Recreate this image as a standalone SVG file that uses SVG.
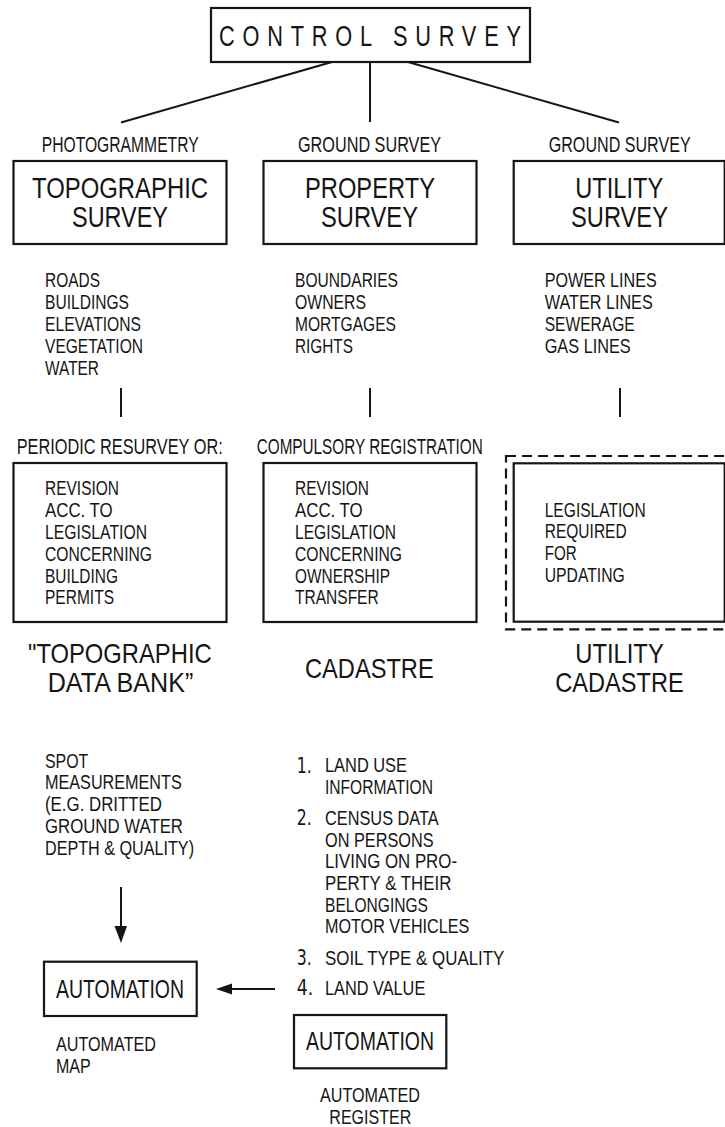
<svg xmlns="http://www.w3.org/2000/svg" width="725" height="1127" viewBox="0 0 725 1127">
<style>
text{font-family:"Liberation Sans",Arial,sans-serif;fill:#151515}
.s{font-size:22px}
.t{font-size:29px}
.l{font-size:20px}
.b{font-size:28px}
.a{font-size:26px}
.n{font-family:"DejaVu Sans",sans-serif;font-size:22px}
.box{fill:none;stroke:#151515;stroke-width:2.2}
.ln{fill:none;stroke:#151515;stroke-width:2}
.dash{fill:none;stroke:#151515;stroke-width:2.2;stroke-dasharray:10 6}
.ah{fill:#151515}
</style>
<g id="control-survey">
<rect class="box" x="211" y="8" width="319" height="54"/>
<text transform="translate(219,46) scale(0.75,1)" font-size="29" letter-spacing="10.4">CONTROL SURVEY</text>
</g>
<g id="connectors">
<line class="ln" x1="332" y1="62" x2="121" y2="122.5"/>
<line class="ln" x1="370" y1="62" x2="370" y2="122"/>
<line class="ln" x1="408" y1="62" x2="619" y2="122.5"/>
<line class="ln" x1="121" y1="388" x2="121" y2="417"/>
<line class="ln" x1="370" y1="388" x2="370" y2="417"/>
<line class="ln" x1="620" y1="388" x2="620" y2="417"/>
<line class="ln" x1="121" y1="887" x2="121" y2="930"/>
<polygon class="ah" points="114.5,926 127,926 121,943"/>
<line class="ln" x1="275" y1="989" x2="228" y2="989"/>
<polygon class="ah" points="216,989 232,983.5 232,994.5"/>
</g>
<g id="topographic-survey">
<text class="s" transform="translate(41.7,152) scale(0.75,1)" textLength="209.3" lengthAdjust="spacingAndGlyphs">PHOTOGRAMMETRY</text>
<rect class="box" x="13.5" y="161" width="213" height="83"/>
<text class="t" transform="translate(32,198) scale(0.75,1)" textLength="234.7" lengthAdjust="spacingAndGlyphs">TOPOGRAPHIC</text>
<text class="t" transform="translate(72,227) scale(0.75,1)" textLength="128" lengthAdjust="spacingAndGlyphs">SURVEY</text>
</g>
<g id="property-survey">
<text class="s" transform="translate(298,152) scale(0.75,1)" textLength="190.7" lengthAdjust="spacingAndGlyphs">GROUND SURVEY</text>
<rect class="box" x="263.5" y="161" width="213" height="83"/>
<text class="t" transform="translate(305,198) scale(0.75,1)" textLength="173.3" lengthAdjust="spacingAndGlyphs">PROPERTY</text>
<text class="t" transform="translate(321,227) scale(0.75,1)" textLength="129.3" lengthAdjust="spacingAndGlyphs">SURVEY</text>
</g>
<g id="utility-survey">
<text class="s" transform="translate(548.7,152) scale(0.75,1)" textLength="189.3" lengthAdjust="spacingAndGlyphs">GROUND SURVEY</text>
<rect class="box" x="513.7" y="161" width="211" height="83"/>
<text class="t" transform="translate(575.3,198) scale(0.75,1)" textLength="117.3" lengthAdjust="spacingAndGlyphs">UTILITY</text>
<text class="t" transform="translate(571,227) scale(0.75,1)" textLength="129.3" lengthAdjust="spacingAndGlyphs">SURVEY</text>
</g>
<g id="topographic-items">
<text class="l" transform="translate(45,287) scale(0.75,1)" textLength="73.3" lengthAdjust="spacingAndGlyphs">ROADS</text>
<text class="l" transform="translate(45,309) scale(0.75,1)" textLength="112" lengthAdjust="spacingAndGlyphs">BUILDINGS</text>
<text class="l" transform="translate(45,331) scale(0.75,1)" textLength="128" lengthAdjust="spacingAndGlyphs">ELEVATIONS</text>
<text class="l" transform="translate(45,353) scale(0.75,1)" textLength="130.7" lengthAdjust="spacingAndGlyphs">VEGETATION</text>
<text class="l" transform="translate(45,375) scale(0.75,1)" textLength="72" lengthAdjust="spacingAndGlyphs">WATER</text>
</g>
<g id="property-items">
<text class="l" transform="translate(295,287) scale(0.75,1)" textLength="137.3" lengthAdjust="spacingAndGlyphs">BOUNDARIES</text>
<text class="l" transform="translate(295,309) scale(0.75,1)" textLength="94.7" lengthAdjust="spacingAndGlyphs">OWNERS</text>
<text class="l" transform="translate(295,331) scale(0.75,1)" textLength="134.7" lengthAdjust="spacingAndGlyphs">MORTGAGES</text>
<text class="l" transform="translate(295,353) scale(0.75,1)" textLength="77.3" lengthAdjust="spacingAndGlyphs">RIGHTS</text>
</g>
<g id="utility-items">
<text class="l" transform="translate(544.7,287) scale(0.75,1)" textLength="149.3" lengthAdjust="spacingAndGlyphs">POWER LINES</text>
<text class="l" transform="translate(544.7,309) scale(0.75,1)" textLength="144" lengthAdjust="spacingAndGlyphs">WATER LINES</text>
<text class="l" transform="translate(544.7,331) scale(0.75,1)" textLength="120" lengthAdjust="spacingAndGlyphs">SEWERAGE</text>
<text class="l" transform="translate(544.7,353) scale(0.75,1)" textLength="114.7" lengthAdjust="spacingAndGlyphs">GAS LINES</text>
</g>
<g id="topographic-revision">
<text class="s" transform="translate(16.7,454) scale(0.75,1)" textLength="274.7" lengthAdjust="spacingAndGlyphs">PERIODIC RESURVEY OR:</text>
<rect class="box" x="13.5" y="463" width="213" height="159"/>
<text class="l" transform="translate(45,495) scale(0.75,1)" textLength="98.7" lengthAdjust="spacingAndGlyphs">REVISION</text>
<text class="l" transform="translate(45,517) scale(0.75,1)" textLength="90.3" lengthAdjust="spacingAndGlyphs">ACC. TO</text>
<text class="l" transform="translate(45,539) scale(0.75,1)" textLength="136" lengthAdjust="spacingAndGlyphs">LEGISLATION</text>
<text class="l" transform="translate(45,561) scale(0.75,1)" textLength="142.7" lengthAdjust="spacingAndGlyphs">CONCERNING</text>
<text class="l" transform="translate(45,583) scale(0.75,1)" textLength="97.3" lengthAdjust="spacingAndGlyphs">BUILDING</text>
<text class="l" transform="translate(45,604) scale(0.75,1)" textLength="92" lengthAdjust="spacingAndGlyphs">PERMITS</text>
</g>
<g id="property-registration">
<text class="s" transform="translate(256.7,454) scale(0.75,1)" textLength="301.3" lengthAdjust="spacingAndGlyphs">COMPULSORY REGISTRATION</text>
<rect class="box" x="263.5" y="463" width="213" height="159"/>
<text class="l" transform="translate(295,495) scale(0.75,1)" textLength="98.7" lengthAdjust="spacingAndGlyphs">REVISION</text>
<text class="l" transform="translate(295,517) scale(0.75,1)" textLength="90.3" lengthAdjust="spacingAndGlyphs">ACC. TO</text>
<text class="l" transform="translate(295,539) scale(0.75,1)" textLength="134.7" lengthAdjust="spacingAndGlyphs">LEGISLATION</text>
<text class="l" transform="translate(295,561) scale(0.75,1)" textLength="142.7" lengthAdjust="spacingAndGlyphs">CONCERNING</text>
<text class="l" transform="translate(295,583) scale(0.75,1)" textLength="126.7" lengthAdjust="spacingAndGlyphs">OWNERSHIP</text>
<text class="l" transform="translate(295,604) scale(0.75,1)" textLength="111.6" lengthAdjust="spacingAndGlyphs">TRANSFER</text>
</g>
<g id="utility-legislation">
<rect class="dash" x="506" y="456" width="230" height="173.3"/>
<rect class="box" x="513.7" y="463.3" width="211" height="158.4"/>
<text class="l" transform="translate(544.7,516.7) scale(0.75,1)" textLength="134.7" lengthAdjust="spacingAndGlyphs">LEGISLATION</text>
<text class="l" transform="translate(544.7,538.3) scale(0.75,1)" textLength="109.3" lengthAdjust="spacingAndGlyphs">REQUIRED</text>
<text class="l" transform="translate(544.7,560) scale(0.75,1)" textLength="42.7" lengthAdjust="spacingAndGlyphs">FOR</text>
<text class="l" transform="translate(544.7,581.7) scale(0.75,1)" textLength="106.7" lengthAdjust="spacingAndGlyphs">UPDATING</text>
</g>
<g id="topographic-data-bank">
<text class="b" transform="translate(28,663.3) scale(0.75,1)" textLength="244.9" lengthAdjust="spacingAndGlyphs">"TOPOGRAPHIC</text>
<text class="b" transform="translate(47.7,691.7) scale(0.75,1)" textLength="194.1" lengthAdjust="spacingAndGlyphs">DATA BANK”</text>
</g>
<g id="cadastre">
<text class="b" transform="translate(305,678.3) scale(0.75,1)" textLength="171.6" lengthAdjust="spacingAndGlyphs">CADASTRE</text>
</g>
<g id="utility-cadastre">
<text class="b" transform="translate(575.3,662.7) scale(0.75,1)" textLength="117.9" lengthAdjust="spacingAndGlyphs">UTILITY</text>
<text class="b" transform="translate(555.3,691.7) scale(0.75,1)" textLength="171.2" lengthAdjust="spacingAndGlyphs">CADASTRE</text>
</g>
<g id="spot-measurements">
<text class="l" transform="translate(45,767.7) scale(0.75,1)" textLength="57.7" lengthAdjust="spacingAndGlyphs">SPOT</text>
<text class="l" transform="translate(45,789.3) scale(0.75,1)" textLength="182.3" lengthAdjust="spacingAndGlyphs">MEASUREMENTS</text>
<text class="l" transform="translate(45,811) scale(0.75,1)" textLength="156" lengthAdjust="spacingAndGlyphs">(E.G. DRITTED</text>
<text class="l" transform="translate(45,833) scale(0.75,1)" textLength="184" lengthAdjust="spacingAndGlyphs">GROUND WATER</text>
<text class="l" transform="translate(45,855) scale(0.75,1)" textLength="198.7" lengthAdjust="spacingAndGlyphs">DEPTH &amp; QUALITY)</text>
</g>
<g id="cadastre-data">
<text class="n" transform="translate(296.7,773) scale(0.75,1)" textLength="20" lengthAdjust="spacingAndGlyphs">1.</text>
<text class="l" transform="translate(325,772.3) scale(0.75,1)" textLength="109.3" lengthAdjust="spacingAndGlyphs">LAND USE</text>
<text class="l" transform="translate(325,793.5) scale(0.75,1)" textLength="144" lengthAdjust="spacingAndGlyphs">INFORMATION</text>
<text class="n" transform="translate(296.7,825) scale(0.75,1)" textLength="20" lengthAdjust="spacingAndGlyphs">2.</text>
<text class="l" transform="translate(325,825) scale(0.75,1)" textLength="151.6" lengthAdjust="spacingAndGlyphs">CENSUS DATA</text>
<text class="l" transform="translate(325,846.7) scale(0.75,1)" textLength="144.9" lengthAdjust="spacingAndGlyphs">ON PERSONS</text>
<text class="l" transform="translate(325,868.3) scale(0.75,1)" textLength="176" lengthAdjust="spacingAndGlyphs">LIVING ON PRO-</text>
<text class="l" transform="translate(325,890) scale(0.75,1)" textLength="168.4" lengthAdjust="spacingAndGlyphs">PERTY &amp; THEIR</text>
<text class="l" transform="translate(325,911.7) scale(0.75,1)" textLength="137.3" lengthAdjust="spacingAndGlyphs">BELONGINGS</text>
<text class="l" transform="translate(325,933.3) scale(0.75,1)" textLength="192.4" lengthAdjust="spacingAndGlyphs">MOTOR VEHICLES</text>
<text class="n" transform="translate(296.7,965) scale(0.75,1)" textLength="20" lengthAdjust="spacingAndGlyphs">3.</text>
<text class="l" transform="translate(325,965) scale(0.75,1)" textLength="239.1" lengthAdjust="spacingAndGlyphs">SOIL TYPE &amp; QUALITY</text>
<text class="n" transform="translate(296.7,995) scale(0.75,1)" textLength="22" lengthAdjust="spacingAndGlyphs">4.</text>
<text class="l" transform="translate(325,995) scale(0.75,1)" textLength="133.7" lengthAdjust="spacingAndGlyphs">LAND VALUE</text>
</g>
<g id="automation-map">
<rect class="box" x="44" y="961.7" width="152.7" height="54.3"/>
<text class="a" transform="translate(56,998.3) scale(0.75,1)" textLength="170.7" lengthAdjust="spacingAndGlyphs">AUTOMATION</text>
<text class="l" transform="translate(56,1051) scale(0.75,1)" textLength="133.3" lengthAdjust="spacingAndGlyphs">AUTOMATED</text>
<text class="l" transform="translate(56,1073.3) scale(0.75,1)" textLength="46.3" lengthAdjust="spacingAndGlyphs">MAP</text>
</g>
<g id="automation-register">
<rect class="box" x="294" y="1015" width="152.3" height="53.3"/>
<text class="a" transform="translate(306,1050) scale(0.75,1)" textLength="170.7" lengthAdjust="spacingAndGlyphs">AUTOMATION</text>
<text class="l" transform="translate(320,1102.3) scale(0.75,1)" textLength="133.3" lengthAdjust="spacingAndGlyphs">AUTOMATED</text>
<text class="l" transform="translate(329.3,1124.3) scale(0.75,1)" textLength="109.3" lengthAdjust="spacingAndGlyphs">REGISTER</text>
</g>
</svg>
